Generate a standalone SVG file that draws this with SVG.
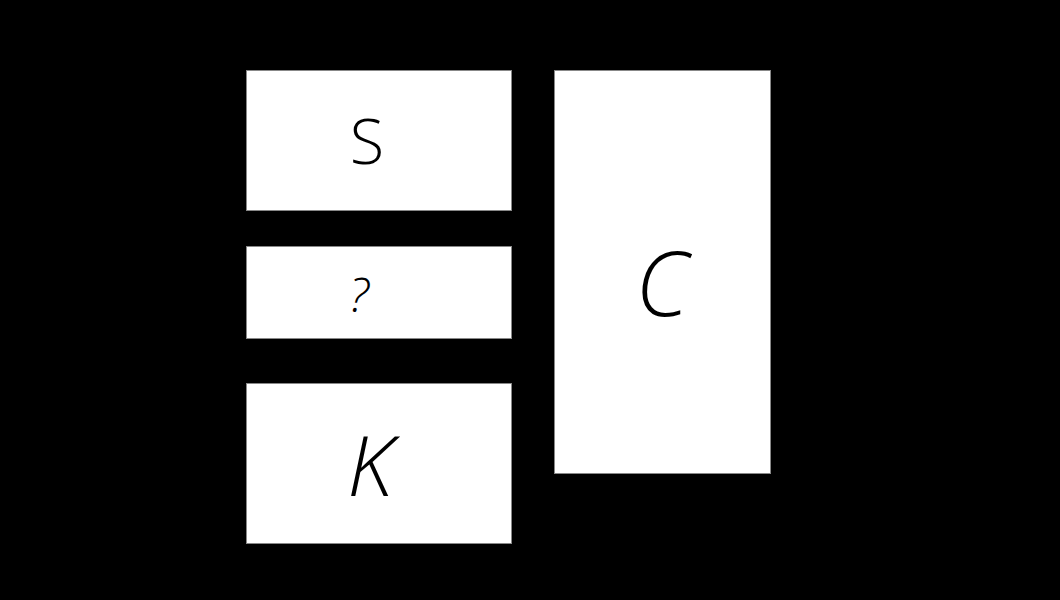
<svg xmlns="http://www.w3.org/2000/svg" width="1060" height="600" viewBox="0 0 1060 600">
<style>
.box{fill:#fff;stroke:#888;stroke-width:1}
.lbl{font-family:"Open Sans","Noto Sans",sans-serif;font-weight:300;fill:#000;text-anchor:middle}
.it{font-style:italic}
</style>
<rect x="0" y="0" width="1060" height="600" fill="#000"/>
<g id="connectors"></g>
<g id="node-S">
<rect class="box" x="246.5" y="70.5" width="265" height="140"/>
<text class="lbl" x="367" y="164" font-size="63">S</text>
</g>
<g id="node-Q">
<rect class="box" x="246.5" y="246.5" width="265" height="92"/>
<text class="lbl it" x="359" y="312" font-size="48">?</text>
</g>
<g id="node-K">
<rect class="box" x="246.5" y="383.5" width="265" height="160"/>
<text class="lbl it" x="370" y="496" font-size="83">K</text>
</g>
<g id="node-C">
<rect class="box" x="554.5" y="70.5" width="216" height="403"/>
<text class="lbl it" x="662" y="316" font-size="90">C</text>
</g>
</svg>
